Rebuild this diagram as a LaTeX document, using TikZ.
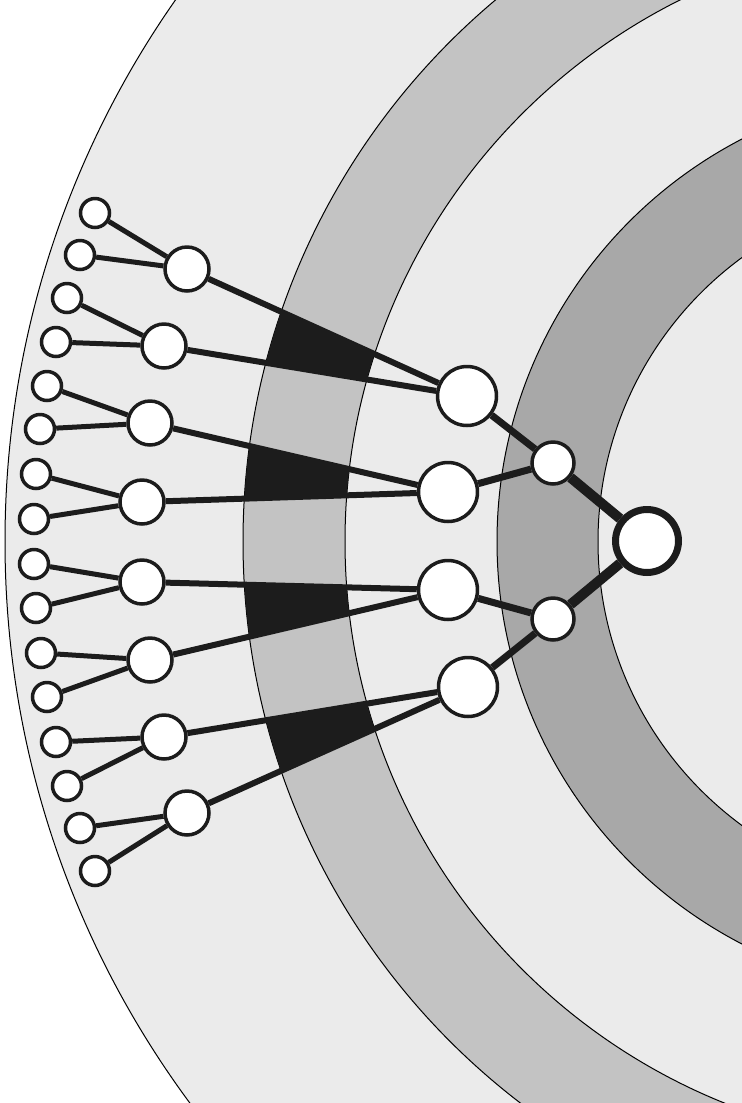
\documentclass[tikz,border=0pt]{standalone}
\usetikzlibrary{positioning,backgrounds}

\definecolor{ringlight}{RGB}{235,235,235}
\definecolor{ringmid}{RGB}{195,195,195}
\definecolor{ringdark}{RGB}{168,168,168}
\definecolor{inkblack}{RGB}{28,28,28}

\begin{document}
\begin{tikzpicture}[x=0.02cm, y=-0.02cm,
  vtx/.style={circle, draw=inkblack, fill=white, inner sep=0pt, line width=0.07cm},
  rootvtx/.style={vtx, minimum size=1.26cm, line width=0.14cm},
  lonevtx/.style={vtx, minimum size=0.84cm},
  twovtx/.style={vtx, minimum size=1.18cm},
  threevtx/.style={vtx, minimum size=0.88cm},
  leafvtx/.style={vtx, minimum size=0.58cm},
  ringline/.style={draw=black, line width=0.02cm}]
  \useasboundingbox (0,0) rectangle (742,1103);

  % Root and first level
  \node[rootvtx] (root) at (647,541) {};
  \node[lonevtx] (a1) at (553,463) {};
  \node[lonevtx] (a2) at (553,619) {};

  % Second level
  \node[twovtx] (m1) at (467,396) {};
  \node[twovtx] (m2) at (448,492) {};
  \node[twovtx] (m3) at (448,590) {};
  \node[twovtx] (m4) at (468,687) {};

  % Third level
  \foreach \n/\x/\y in {1/187/269, 2/164/346, 3/150/423, 4/142/502,
                        5/142/582, 6/150/660, 7/164/737, 8/187/813}
    \node[threevtx] (t\n) at (\x,\y) {};

  % Leaves
  \foreach \n/\x/\y in {1/95/213, 2/80/255, 3/67/298, 4/56/342,
                        5/47/386, 6/40/429, 7/36/474, 8/34/519,
                        9/34/564, 10/36/608, 11/41/653, 12/47/697,
                        13/56/742, 14/67/786, 15/80/828, 16/95/871}
    \node[leafvtx] (l\n) at (\x,\y) {};

  % Edges
  \draw[inkblack, line width=0.2cm] (root) -- (a1);
  \draw[inkblack, line width=0.2cm] (root) -- (a2);
  \foreach \a/\b in {a1/m1, a1/m2, a2/m3, a2/m4}
    \draw[inkblack, line width=0.14cm] (\a) -- (\b);
  \foreach \a/\b in {m1/t1, m1/t2, m2/t3, m2/t4, m3/t5, m3/t6, m4/t7, m4/t8}
    \draw[inkblack, line width=0.12cm] (\a) -- (\b);
  \foreach \n in {1,...,8} {
    \pgfmathtruncatemacro{\i}{2*\n-1}
    \pgfmathtruncatemacro{\j}{2*\n}
    \draw[inkblack, line width=0.1cm] (t\n) -- (l\i);
    \draw[inkblack, line width=0.1cm] (t\n) -- (l\j);
  }

  % Rings behind everything
  \begin{scope}[on background layer]
    \clip (0,0) rectangle (742,1103);
    \coordinate (ctr) at (950,541.5);
    \fill[ringlight] (ctr) circle (945);
    \fill[ringmid] (ctr) circle (707);
    \fill[ringlight] (ctr) circle (605);
    \fill[ringdark] (ctr) circle (453);
    \fill[ringlight] (ctr) circle (352);
    \foreach \r in {945,707,605,453,352}
      \draw[ringline] (ctr) circle (\r);
    % black wedges inside the middle ring
    \begin{scope}[even odd rule]
      \clip (ctr) circle (707) (ctr) circle (605);
      \foreach \m/\p/\q in {m1/t1/t2, m2/t3/t4, m3/t5/t6, m4/t7/t8}
        \fill[inkblack] (\m.center) -- (\p.center) -- (\q.center) -- cycle;
    \end{scope}
  \end{scope}
\end{tikzpicture}
\end{document}
